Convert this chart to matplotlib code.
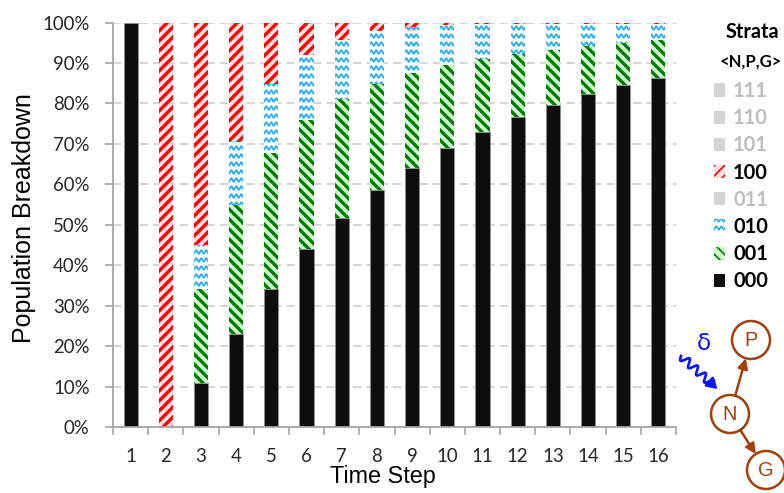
import numpy as np
import matplotlib
matplotlib.use('Agg')
import matplotlib.pyplot as plt
from matplotlib import hatch as mhatch
from matplotlib.path import Path
from matplotlib.patches import Patch, Circle

# Time steps and population share (%) of each <N,P,G> stratum
steps = list(range(1, 17))
s000 = [100, 0, 11, 23, 34, 44, 51.6, 58.5, 64.1, 69.0, 72.9, 76.7, 79.7, 82.3, 84.6, 86.3]
s001 = [0, 0, 23, 32, 33.7, 31.9, 29.6, 26.2, 23.3, 20.6, 18.0, 15.6, 13.4, 11.8, 10.4, 9.4]
s010 = [0, 0, 11, 15.4, 17.2, 16.0, 14.5, 13.3, 11.6, 9.9, 8.7, 7.3, 6.6, 5.6, 4.7, 4.0]
s011 = [0] * 16
s100 = [0, 100, 55, 29.6, 15.1, 8.1, 4.3, 2.0, 1.0, 0.5, 0.4, 0.4, 0.3, 0.3, 0.3, 0.3]
s101 = [0] * 16
s110 = [0] * 16
s111 = [0] * 16
yticks = list(range(0, 101, 10))


# wavy fill pattern (Excel "wave"), hooked onto the '*' hatch character
class WaveHatch(mhatch.HatchPatternBase):
    PTS = 193

    def __init__(self, hatch, density):
        self.num_rows = hatch.count('*') * 15
        self.num_vertices = self.num_rows * self.PTS

    def set_vertices_and_codes(self, vertices, codes):
        t = np.linspace(0, 1, self.PTS)
        for i in range(self.num_rows):
            sl = slice(i * self.PTS, (i + 1) * self.PTS)
            vertices[sl, 0] = t
            vertices[sl, 1] = (i + 0.5) / self.num_rows + 0.014 * np.sin(2 * np.pi * 24 * t)
            codes[sl] = Path.LINETO
            codes[i * self.PTS] = Path.MOVETO


mhatch._hatch_types = [h for h in mhatch._hatch_types if h is not mhatch.Stars] + [WaveHatch]

DPI = 120
fig = plt.figure(figsize=(784 / DPI, 493 / DPI), dpi=DPI)
ax = fig.add_axes([113 / 784, 66 / 493, 563 / 784, 404.5 / 493])

styles = {
    '000': dict(color='#0d0d0d', edgecolor='#8c8c8c', linewidth=0.6),
    '001': dict(color='#ccffcc', edgecolor='#007a00', hatch='\\\\\\\\', linewidth=0),
    '010': dict(color='white', edgecolor='#2eb0f0', hatch='*', linewidth=0),
    '011': dict(color='#d4d4d4', linewidth=0),
    '100': dict(color='#ffe0e0', edgecolor='#ff0000', hatch='////', linewidth=0),
    '101': dict(color='#d4d4d4', linewidth=0),
    '110': dict(color='#d4d4d4', linewidth=0),
    '111': dict(color='#d4d4d4', linewidth=0),
}
series = [('000', s000), ('001', s001), ('010', s010), ('011', s011),
          ('100', s100), ('101', s101), ('110', s110), ('111', s111)]
hatch_lw = {'001': 2.0, '100': 2.0, '010': 1.1}

bottom = np.zeros(len(steps))
for name, vals in series:
    with plt.rc_context({'hatch.linewidth': hatch_lw.get(name, 1.0)}):
        ax.bar(steps, vals, width=0.4, bottom=bottom, **styles[name])
    bottom += np.array(vals)

ax.set_xlim(0.5, 16.5)
ax.set_ylim(0, 100)
ax.set_yticks(yticks)
ax.set_yticklabels([f'{v}%' for v in yticks])
ax.set_xticks(steps)
ax.set_xticks(np.arange(0.5, 17, 1), minor=True)
ax.grid(axis='y', color='#d0d0d0', linewidth=1.0, dashes=(5, 3))
ax.set_axisbelow(True)
for s in ['top', 'right']:
    ax.spines[s].set_visible(False)
for s in ['left', 'bottom']:
    ax.spines[s].set_color('#a6a6a6')
    ax.spines[s].set_linewidth(1.1)

tick_font = dict(family=['Lato', 'DejaVu Sans'], size=11.2)
ax.tick_params(axis='y', which='major', length=5, width=1.0, color='#a6a6a6',
               pad=9, labelcolor='#262626')
ax.tick_params(axis='x', which='major', length=0, pad=12.5, labelcolor='#262626')
ax.tick_params(axis='x', which='minor', length=5, width=1.0, color='#a6a6a6')
for lab in ax.get_xticklabels() + ax.get_yticklabels():
    lab.set_fontfamily(tick_font['family'])
    lab.set_fontsize(tick_font['size'])

ax.set_ylabel('Population Breakdown', fontsize=15, family=['Liberation Sans', 'DejaVu Sans'])
ax.set_xlabel('Time Step', fontsize=14, family=['Liberation Sans', 'DejaVu Sans'])
ax.yaxis.set_label_coords(-0.136, 0.517)
ax.xaxis.set_label_coords(0.48, -0.095)

# legend (top entry first)
legend_order = ['111', '110', '101', '100', '011', '010', '001', '000']
handles = []
for name in legend_order:
    st = styles[name]
    handles.append(Patch(facecolor=st['color'], edgecolor=st.get('edgecolor', st['color']),
                         hatch=st.get('hatch'), linewidth=0))
leg = fig.legend(handles, legend_order, loc='upper left', bbox_to_anchor=(714 / 784, 1 - 81 / 493),
                 frameon=False, handlelength=0.55, handleheight=0.65, handletextpad=0.4,
                 labelspacing=0.36, borderpad=0, borderaxespad=0,
                 prop=dict(family=['Lato', 'DejaVu Sans'], weight='bold', size=12))
zero = {'111', '110', '101', '011'}
for txt, name in zip(leg.get_texts(), legend_order):
    txt.set_color('#bfbfbf' if name in zero else 'black')
fig.text(752 / 784, 1 - 32 / 493, 'Strata', ha='center', va='center', fontsize=12,
         weight='bold', family=['Lato', 'DejaVu Sans'])
fig.text(751 / 784, 1 - 62 / 493, '<N,P,G>', ha='center', va='center', fontsize=10,
         weight='bold', family=['Lato', 'DejaVu Sans'])

# small causal diagram, bottom right
ov = fig.add_axes([0, 0, 1, 1], zorder=5)
ov.set_xlim(0, 784)
ov.set_ylim(493, 0)
ov.axis('off')
brown = '#a0400c'
nodes = {'P': (751, 340), 'N': (730, 414), 'G': (766, 470)}
R = 19
for lbl, (cx, cy) in nodes.items():
    ov.add_patch(Circle((cx, cy), R, fill=False, edgecolor=brown, linewidth=1.5))
    ov.text(cx, cy + 1, lbl, ha='center', va='center', color=brown, fontsize=12,
            family=['Liberation Sans', 'DejaVu Sans'])


def edge(a, b):
    (x0, y0), (x1, y1) = nodes[a], nodes[b]
    d = np.hypot(x1 - x0, y1 - y0)
    ux, uy = (x1 - x0) / d, (y1 - y0) / d
    ov.annotate('', xy=(x1 - ux * R, y1 - uy * R), xytext=(x0 + ux * R, y0 + uy * R),
                arrowprops=dict(arrowstyle='-|>,head_length=0.5,head_width=0.25',
                                color=brown, lw=1.5, shrinkA=0, shrinkB=0))


edge('N', 'P')
edge('N', 'G')

# wavy blue arrow with delta
p0, p1 = np.array([681.0, 356.0]), np.array([713.0, 385.0])
d = p1 - p0
L = np.hypot(*d)
u = d / L
nrm = np.array([-u[1], u[0]])
t = np.linspace(0, 1, 200)
wave = p0[None, :] + t[:, None] * d[None, :] + (4 * np.sin(2 * np.pi * 4 * t))[:, None] * nrm[None, :]
ov.plot(wave[:, 0], wave[:, 1], color='#0a14ff', lw=1.6)
ov.annotate('', xy=p1 + u * 6, xytext=p1 - u * 1,
            arrowprops=dict(arrowstyle='-|>,head_length=0.5,head_width=0.3',
                            color='#0a14ff', lw=1.6, shrinkA=0, shrinkB=0))
ov.text(704, 343, 'δ', ha='center', va='center', color='#0a14ff', fontsize=14,
        family=['DejaVu Sans'])

fig.savefig('out.png', dpi=DPI)
